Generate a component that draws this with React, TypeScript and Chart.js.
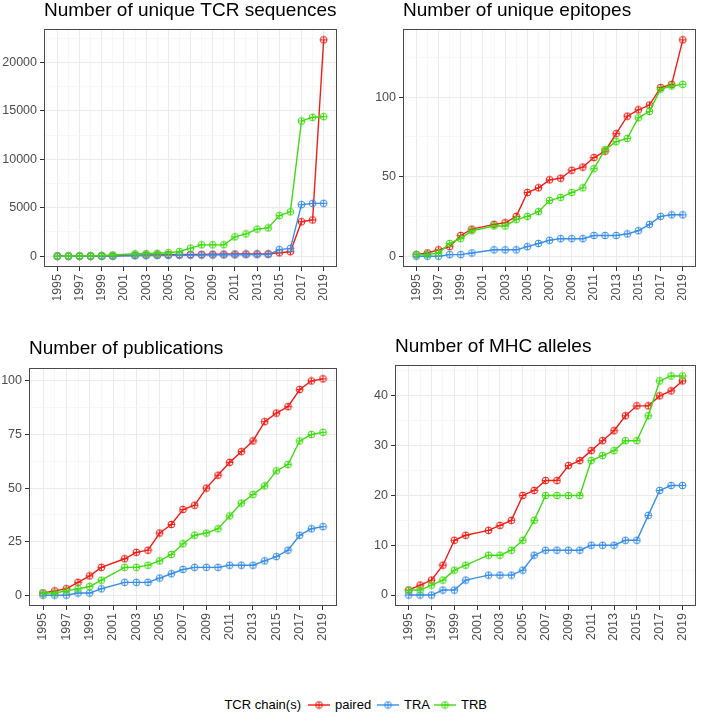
import React, { useEffect, useRef } from 'react';
import { Chart, registerables } from 'chart.js';

Chart.register(...registerables);

// ---------- data ----------
const years = [1995, 1996, 1997, 1998, 1999, 2000, 2002, 2003, 2004, 2005, 2006, 2007, 2008, 2009, 2010, 2011, 2012, 2013, 2014, 2015, 2016, 2017, 2018, 2019];

const seqPaired = [0, 0, 5, 10, 20, 30, 100, 120, 140, 150, 170, 180, 190, 200, 210, 220, 230, 240, 250, 350, 460, 3560, 3740, 22350];
const seqTRA = [0, 0, 0, 5, 5, 10, 50, 60, 70, 80, 90, 100, 110, 120, 130, 140, 150, 160, 170, 680, 800, 5320, 5450, 5460];
const seqTRB = [10, 20, 30, 50, 70, 120, 250, 270, 300, 350, 480, 830, 1170, 1170, 1180, 2000, 2300, 2800, 2920, 4190, 4580, 13970, 14350, 14410];

const epiPaired = [1, 2, 4, 6, 13, 17, 20, 21, 25, 40, 43, 48, 49, 54, 56, 62, 66, 77, 88, 92, 95, 106, 108, 136];
const epiTRA = [0, 0, 0, 1, 1, 2, 4, 4, 4, 6, 8, 10, 11, 11, 11, 13, 13, 13, 14, 16, 20, 25, 26, 26];
const epiTRB = [1, 1, 2, 8, 11, 16, 19, 19, 23, 25, 28, 35, 37, 40, 43, 55, 67, 72, 74, 87, 91, 105, 107, 108];

const pubPaired = [1, 2, 3, 6, 9, 13, 17, 20, 21, 29, 33, 40, 42, 50, 56, 62, 67, 72, 81, 85, 88, 96, 100, 101];
const pubTRA = [0, 0, 0, 1, 1, 3, 6, 6, 6, 8, 10, 12, 13, 13, 13, 14, 14, 14, 16, 18, 21, 28, 31, 32];
const pubTRB = [1, 1, 2, 3, 4, 7, 13, 13, 14, 16, 19, 24, 28, 29, 31, 37, 43, 47, 51, 58, 61, 72, 75, 76];

const mhcPaired = [1, 2, 3, 6, 11, 12, 13, 14, 15, 20, 21, 23, 23, 26, 27, 29, 31, 33, 36, 38, 38, 40, 41, 43];
const mhcTRA = [0, 0, 0, 1, 1, 3, 4, 4, 4, 5, 8, 9, 9, 9, 9, 10, 10, 10, 11, 11, 16, 21, 22, 22];
const mhcTRB = [1, 1, 2, 3, 5, 6, 8, 8, 9, 11, 15, 20, 20, 20, 20, 27, 28, 29, 31, 31, 36, 43, 44, 44];

const yearTicks = [1995, 1997, 1999, 2001, 2003, 2005, 2007, 2009, 2011, 2013, 2015, 2017, 2019];
const yearMinor = [1994, 1996, 1998, 2000, 2002, 2004, 2006, 2008, 2010, 2012, 2014, 2016, 2018, 2020];

const seqTicks = [0, 5000, 10000, 15000, 20000];
const seqMinor = [2500, 7500, 12500, 17500, 22500];
const epiTicks = [0, 50, 100];
const epiMinor = [25, 75, 125];
const pubTicks = [0, 25, 50, 75, 100];
const pubMinor = [12.5, 37.5, 62.5, 87.5];
const mhcTicks = [0, 10, 20, 30, 40];
const mhcMinor = [5, 15, 25, 35, 45];

const seriesNames = ['paired', 'TRA', 'TRB'];
const legendTitle = 'TCR chain(s)';

// ---------- styles ----------
const COLORS = ['#F01E16', '#3A8EE8', '#3FDC12'];
const FONT = '"Liberation Sans", Arial, Helvetica, sans-serif';

function circlePlus(color: string): HTMLCanvasElement {
  const c = document.createElement('canvas');
  c.width = 9;
  c.height = 9;
  const ctx = c.getContext('2d')!;
  ctx.strokeStyle = color;
  ctx.lineWidth = 1;
  ctx.beginPath();
  ctx.arc(4.5, 4.5, 3.4, 0, Math.PI * 2);
  ctx.stroke();
  ctx.beginPath();
  ctx.moveTo(1, 4.5);
  ctx.lineTo(8, 4.5);
  ctx.moveTo(4.5, 1);
  ctx.lineTo(4.5, 8);
  ctx.stroke();
  return c;
}

const borderPlugin = {
  id: 'panelBorder',
  afterDatasetsDraw(chart: any) {
    const { ctx, chartArea } = chart;
    ctx.save();
    ctx.strokeStyle = '#4a4a4a';
    ctx.lineWidth = 1;
    ctx.strokeRect(
      Math.round(chartArea.left) + 0.5,
      Math.round(chartArea.top) + 0.5,
      Math.round(chartArea.right - chartArea.left) - 1,
      Math.round(chartArea.bottom - chartArea.top) - 1
    );
    ctx.restore();
  },
};

type PanelCfg = {
  title: string;
  left: number;
  top: number;
  width: number;
  height: number;
  chartLeft: number;
  chartTop: number;
  chartRight: number;
  chartBottom: number;
  titleTop: number;
  series: number[][];
  yMajor: number[];
  yMinor: number[];
};

const panels: PanelCfg[] = [
  { title: 'Number of unique TCR sequences', left: 0, top: 0, width: 356, height: 300, chartLeft: 44, chartTop: 29, chartRight: 337, chartBottom: 267, titleTop: 0, series: [seqPaired, seqTRA, seqTRB], yMajor: seqTicks, yMinor: seqMinor },
  { title: 'Number of unique epitopes', left: 356, top: 0, width: 356, height: 300, chartLeft: 47, chartTop: 29, chartRight: 344, chartBottom: 267, titleTop: 0, series: [epiPaired, epiTRA, epiTRB], yMajor: epiTicks, yMinor: epiMinor },
  { title: 'Number of publications', left: 0, top: 300, width: 356, height: 342, chartLeft: 29, chartTop: 68, chartRight: 337, chartBottom: 306, titleTop: 38, series: [pubPaired, pubTRA, pubTRB], yMajor: pubTicks, yMinor: pubMinor },
  { title: 'Number of MHC alleles', left: 356, top: 300, width: 356, height: 342, chartLeft: 39, chartTop: 65, chartRight: 344, chartBottom: 306, titleTop: 36, series: [mhcPaired, mhcTRA, mhcTRB], yMajor: mhcTicks, yMinor: mhcMinor },
];

const TITLE_LH = 21;

function Panel({ cfg }: { cfg: PanelCfg }) {
  const ref = useRef<HTMLCanvasElement>(null);
  useEffect(() => {
    if (!ref.current) return;
    const maxVal = Math.max(...cfg.series.flat());
    const yMajorSet = new Set(cfg.yMajor);
    const xMajorSet = new Set(yearTicks);
    const datasets = cfg.series.map((vals, i) => ({
      label: seriesNames[i],
      data: years.map((y, j) => ({ x: y, y: vals[j] })),
      borderColor: COLORS[i],
      backgroundColor: COLORS[i],
      borderWidth: 1.4,
      pointStyle: circlePlus(COLORS[i]),
      pointRadius: 4,
      tension: 0,
      order: 3 - i,
    }));
    const chart = new Chart(ref.current, {
      type: 'line',
      data: { datasets },
      plugins: [borderPlugin],
      options: {
        animation: false,
        responsive: false,
        events: [],
        layout: { padding: { top: cfg.titleTop, right: cfg.width - cfg.chartRight, bottom: 0, left: 0 } },
        plugins: {
          legend: { display: false },
          tooltip: { enabled: false },
          title: {
            display: true,
            text: cfg.title,
            align: 'start',
            fullSize: false,
            color: '#000000',
            font: { family: FONT, size: 19, weight: 'normal', lineHeight: TITLE_LH + 'px' },
            padding: { top: 0, bottom: cfg.chartTop - cfg.titleTop - TITLE_LH },
          },
        },
        scales: {
          x: {
            type: 'linear',
            min: 1993.8,
            max: 2020.2,
            afterBuildTicks: (scale: any) => {
              scale.ticks = [...yearMinor, ...yearTicks].sort((a, b) => a - b).map((v) => ({ value: v }));
            },
            afterFit: (scale: any) => {
              scale.height = cfg.height - cfg.chartBottom;
            },
            border: { display: false },
            grid: {
              color: (c: any) => (xMajorSet.has(c.tick?.value) ? '#EBEBEB' : '#F4F4F4'),
              lineWidth: (c: any) => (xMajorSet.has(c.tick?.value) ? 1 : 0.7),
              tickColor: (c: any) => (xMajorSet.has(c.tick?.value) ? '#333333' : 'rgba(0,0,0,0)'),
              tickLength: 4,
              drawTicks: true,
            },
            ticks: {
              autoSkip: false,
              minRotation: 90,
              maxRotation: 90,
              padding: 3,
              color: '#4D4D4D',
              font: { family: FONT, size: 12.5 },
              callback: (v: any) => (xMajorSet.has(Number(v)) ? String(v) : ''),
            },
          },
          y: {
            type: 'linear',
            min: -0.05 * maxVal,
            max: 1.05 * maxVal,
            afterBuildTicks: (scale: any) => {
              scale.ticks = [...cfg.yMajor, ...cfg.yMinor]
                .filter((v) => v >= -0.05 * maxVal && v <= 1.05 * maxVal)
                .sort((a, b) => a - b)
                .map((v) => ({ value: v }));
            },
            afterFit: (scale: any) => {
              scale.width = cfg.chartLeft;
            },
            border: { display: false },
            grid: {
              color: (c: any) => (yMajorSet.has(c.tick?.value) ? '#EBEBEB' : '#F4F4F4'),
              lineWidth: (c: any) => (yMajorSet.has(c.tick?.value) ? 1 : 0.7),
              tickColor: (c: any) => (yMajorSet.has(c.tick?.value) ? '#333333' : 'rgba(0,0,0,0)'),
              tickLength: 4,
              drawTicks: true,
            },
            ticks: {
              padding: 3,
              color: '#4D4D4D',
              font: { family: FONT, size: 12.5 },
              callback: (v: any) => (yMajorSet.has(Number(v)) ? String(v) : ''),
            },
          },
        },
      } as any,
    });
    return () => chart.destroy();
  }, [cfg]);
  return (
    <canvas
      ref={ref}
      width={cfg.width}
      height={cfg.height}
      style={{ position: 'absolute', left: cfg.left, top: cfg.top, width: cfg.width, height: cfg.height }}
    />
  );
}

function Swatch({ color }: { color: string }) {
  const ref = useRef<HTMLCanvasElement>(null);
  useEffect(() => {
    const c = ref.current;
    if (!c) return;
    const ctx = c.getContext('2d')!;
    ctx.clearRect(0, 0, c.width, c.height);
    ctx.strokeStyle = color;
    ctx.lineWidth = 1.4;
    ctx.beginPath();
    ctx.moveTo(0, 7);
    ctx.lineTo(22, 7);
    ctx.stroke();
    ctx.drawImage(circlePlus(color), 6.5, 2.5);
  }, [color]);
  return <canvas ref={ref} width={22} height={14} style={{ display: 'block' }} />;
}

const legendItemLefts = [308, 377, 434];

export default function App() {
  return (
    <div style={{ position: 'absolute', left: 0, top: 0, width: 712, height: 717, background: '#ffffff', fontFamily: FONT }}>
      {panels.map((p) => (
        <Panel key={p.title} cfg={p} />
      ))}
      <div style={{ position: 'absolute', right: 712 - 301, top: 696, height: 18, lineHeight: '18px', fontSize: 13, color: '#000', whiteSpace: 'nowrap' }}>
        {legendTitle}
      </div>
      {seriesNames.map((n, i) => (
        <div key={n} style={{ position: 'absolute', left: legendItemLefts[i], top: 696, height: 18, display: 'flex', alignItems: 'center', whiteSpace: 'nowrap' }}>
          <Swatch color={COLORS[i]} />
          <span style={{ marginLeft: 5, fontSize: 13, lineHeight: '18px', color: '#000' }}>{n}</span>
        </div>
      ))}
    </div>
  );
}
